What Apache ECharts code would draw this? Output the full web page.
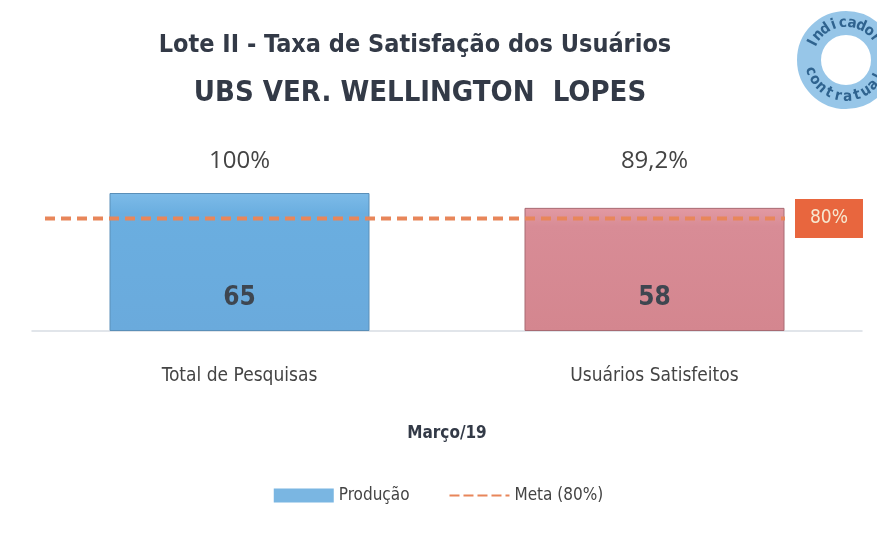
<!DOCTYPE html>
<html>
<head>
<meta charset="utf-8">
<script src="https://cdn.jsdelivr.net/npm/echarts@6/dist/echarts.min.js"></script>
<style>
  html, body { margin: 0; padding: 0; background: #fff; }
  #chart { width: 877px; height: 533px; }
</style>
</head>
<body>
<div id="chart"></div>
<script>
var categories = ['Total de Pesquisas', 'Usuários Satisfeitos'];
var producao = [65, 58];
var percentLabels = ['100%', '89,2%'];
var meta = [53, 53];
var metaLabel = '80%';

var font = '"DejaVu Sans Condensed", "Open Sans", sans-serif';
var barColors = [
    new echarts.graphic.LinearGradient(0, 0, 0, 1, [
        { offset: 0, color: '#7dbbe8' }, { offset: 0.15, color: '#6aaee0' }, { offset: 1, color: '#6aaadc' }
    ]),
    new echarts.graphic.LinearGradient(0, 0, 0, 1, [
        { offset: 0, color: '#e29aa3' }, { offset: 0.15, color: '#d88c96' }, { offset: 1, color: '#d4868f' }
    ])
];
var borderColors = ['#5a8fb8', '#a86a72'];

// curved badge text, one letter at a time along the ring
function arcText(str, cx, cy, r, startDeg, endDeg, bottom) {
    var out = [];
    var n = str.length;
    for (var i = 0; i < n; i++) {
        var a = (startDeg + (endDeg - startDeg) * (i + 0.5) / n) * Math.PI / 180;
        var x = cx + r * Math.cos(a);
        var y = cy + r * Math.sin(a);
        var rot = bottom ? -(a - Math.PI / 2) : -(a + Math.PI / 2);
        out.push({
            type: 'text', x: x, y: y, rotation: rot, z: 10,
            style: { text: str[i], fill: '#2f638f', font: 'bold 15px ' + font, textAlign: 'center', textVerticalAlign: 'middle' }
        });
    }
    return out;
}

var badge = [{
    type: 'circle', shape: { cx: 846, cy: 60, r: 37 },
    style: { fill: 'none', stroke: '#8cc0e6', lineWidth: 24, opacity: 0.9 }, z: 5
}].concat(arcText('Indicador', 846, 60, 37, 200, 330, false))
  .concat(arcText('contratual', 846, 60, 37, 170, 20, true));

var myChart = echarts.init(document.getElementById('chart'));
var option = {
    backgroundColor: '#fff',
    title: [{
        text: 'Lote II - Taxa de Satisfação dos Usuários',
        left: 410, top: 28, textAlign: 'center',
        textStyle: { fontFamily: font, fontSize: 25, fontWeight: 'bold', color: '#333a47' }
    }, {
        text: 'UBS VER. WELLINGTON  LOPES',
        left: 415, top: 74, textAlign: 'center',
        textStyle: { fontFamily: font, fontSize: 29, fontWeight: 'bold', color: '#333a47' }
    }],
    legend: {
        bottom: 24, left: 'center', itemGap: 40, itemWidth: 60, itemHeight: 14,
        textStyle: { fontFamily: font, fontSize: 17, color: '#444' },
        data: [
            { name: 'Produção', icon: 'rect', itemStyle: { color: '#7ab6e2' } },
            { name: 'Meta (80%)', icon: 'path://M0,0 H10 V2 H0 Z M14,0 H24 V2 H14 Z M28,0 H38 V2 H28 Z M42,0 H52 V2 H42 Z M56,0 H60 V2 H56 Z', itemStyle: { color: '#e8865a' } }
        ]
    },
    grid: [
        { left: 32, right: 15, top: 193, bottom: 202 },
        { left: 45, right: 92, top: 193, bottom: 202 }
    ],
    xAxis: [{
        type: 'category', gridIndex: 0, data: categories,
        axisLine: { lineStyle: { color: '#d8dde4', width: 1.5 } },
        axisTick: { show: false },
        axisLabel: { fontFamily: font, fontSize: 19, color: '#444', margin: 36 },
        name: 'Março/19', nameLocation: 'middle', nameGap: 94,
        nameTextStyle: { fontFamily: font, fontSize: 17, fontWeight: 'bold', color: '#333a47' }
    }, {
        type: 'category', gridIndex: 1, data: ['', ''], boundaryGap: false, show: false
    }],
    yAxis: [
        { type: 'value', gridIndex: 0, min: 0, max: 65, show: false },
        { type: 'value', gridIndex: 1, min: 0, max: 65, show: false }
    ],
    series: [{
        name: 'Produção', type: 'bar', barWidth: 260, xAxisIndex: 0, yAxisIndex: 0,
        data: producao.map(function (v, i) {
            return { value: v, itemStyle: { color: barColors[i], borderColor: borderColors[i], borderWidth: 1 } };
        }),
        label: {
            show: true, position: 'insideBottom', distance: 20,
            fontFamily: font, fontSize: 26, fontWeight: 'bold', color: '#3e4650'
        }
    }, {
        // transparent bars at the tallest value, only to carry the % labels on one line
        name: 'pct', type: 'bar', barWidth: 260, barGap: '-100%', xAxisIndex: 0, yAxisIndex: 0,
        data: producao.map(function () { return Math.max.apply(null, producao); }),
        silent: true, z: 1,
        itemStyle: { color: 'rgba(0,0,0,0)' },
        label: {
            show: true, position: 'top', distance: 20,
            formatter: function (p) { return percentLabels[p.dataIndex]; },
            fontFamily: '"Open Sans", sans-serif', fontSize: 24, color: '#444'
        }
    }, {
        name: 'Meta (80%)', type: 'line', xAxisIndex: 1, yAxisIndex: 1, data: meta,
        symbol: 'none', z: 5,
        lineStyle: { color: '#e8865a', width: 4, type: [10, 6] },
        endLabel: {
            show: true, formatter: metaLabel, distance: 10,
            backgroundColor: '#e8663e', color: '#f6e8d0',
            padding: [10, 15, 10, 15], fontFamily: font, fontSize: 19
        }
    }],
    graphic: badge
};
myChart.setOption(option);
</script>
</body>
</html>
